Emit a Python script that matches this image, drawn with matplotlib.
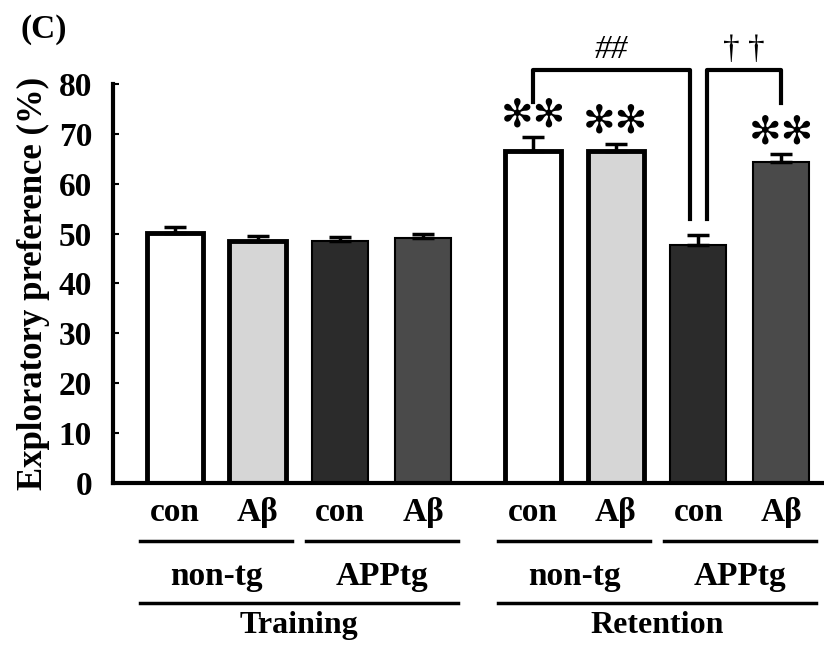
import numpy as np
import matplotlib.pyplot as plt

plt.rcParams['font.family'] = ['Liberation Serif', 'DejaVu Serif', 'DejaVu Sans']
plt.rcParams['font.weight'] = 'bold'

# data
conditions = ['con', 'Aβ', 'con', 'Aβ', 'con', 'Aβ', 'con', 'Aβ']
genotypes = ['non-tg', 'APPtg', 'non-tg', 'APPtg']
phases = ['Training', 'Retention']
means = [50.1, 48.5, 48.5, 49.1, 66.5, 66.5, 47.8, 64.3]
sems = [1.3, 1.0, 0.8, 0.9, 2.8, 1.5, 2.0, 1.6]
stars = ['', '', '', '', '✻✻', '✻✻', '', '✻✻']
colors = ['white', '#d6d6d6', '#2b2b2b', '#4a4a4a'] * 2

x = np.array([0, 1, 2, 3, 4.33, 5.33, 6.33, 7.33])
width = 0.68

fig = plt.figure(figsize=(8.24, 6.46), dpi=100)
ax = fig.add_axes([0.137, 0.2523, 0.861, 0.6177])

for i in range(len(x)):
    ax.bar(x[i], means[i], width, color=colors[i], edgecolor='black',
           linewidth=3.5 if i % 4 < 2 else 1.5, zorder=2)
    ax.errorbar(x[i], means[i], yerr=[[0], [sems[i]]], fmt='none',
                ecolor='black', elinewidth=2.5, capsize=8, capthick=2.5, zorder=3)
    if stars[i]:
        ax.text(x[i], means[i] + sems[i] + 0.6, stars[i], ha='center', va='bottom',
                fontsize=28, family=['DejaVu Sans'], fontweight='normal')

ax.set_xlim(-0.75, 7.83)
ax.set_ylim(0, 80)
ax.set_yticks(np.arange(0, 81, 10))
ax.tick_params(axis='y', direction='in', length=4, width=1.5, labelsize=24, pad=15)
ax.set_xticks([])
ax.spines['top'].set_visible(False)
ax.spines['right'].set_visible(False)
ax.spines['left'].set_linewidth(3)
ax.spines['bottom'].set_linewidth(3)
ax.set_ylabel('Exploratory preference (%)', fontsize=25, fontweight='bold',
              labelpad=6)

# significance brackets
br_top = 82.8
ax.plot([x[4], x[4], x[6] - 0.1, x[6] - 0.1], [76.4, br_top, br_top, 53],
        color='black', lw=3, clip_on=False)
ax.plot([x[6] + 0.1, x[6] + 0.1, x[7], x[7]], [53, br_top, br_top, 76.2],
        color='black', lw=3, clip_on=False)
ax.text((x[4] + x[6]) / 2 - 0.05, br_top + 1.0, '##', ha='center', va='bottom',
        fontsize=24, style='italic', fontweight='normal')
ax.text((x[6] + x[7]) / 2 + 0.05, br_top + 1.0, '† †', ha='center', va='bottom',
        fontsize=24, fontweight='normal')

# category labels
trans = ax.get_xaxis_transform()
for i in range(len(x)):
    ax.text(x[i], -0.075, conditions[i], transform=trans, ha='center', va='center',
            fontsize=24)
for g in range(4):
    a, b = x[2 * g] - 0.42, x[2 * g + 1] + 0.42
    ax.plot([a, b], [-0.145, -0.145], transform=trans, color='black', lw=2.5,
            clip_on=False)
    ax.text((a + b) / 2, -0.235, genotypes[g], transform=trans, ha='center',
            va='center', fontsize=24)
for p in range(2):
    a, b = x[4 * p] - 0.42, x[4 * p + 3] + 0.42
    ax.plot([a, b], [-0.3, -0.3], transform=trans, color='black', lw=2.5,
            clip_on=False)
    ax.text((a + b) / 2, -0.358, phases[p], transform=trans, ha='center',
            va='center', fontsize=23)

fig.text(0.025, 0.955, '(C)', fontsize=24, ha='left', va='center')

fig.savefig('out.png', dpi=100)
